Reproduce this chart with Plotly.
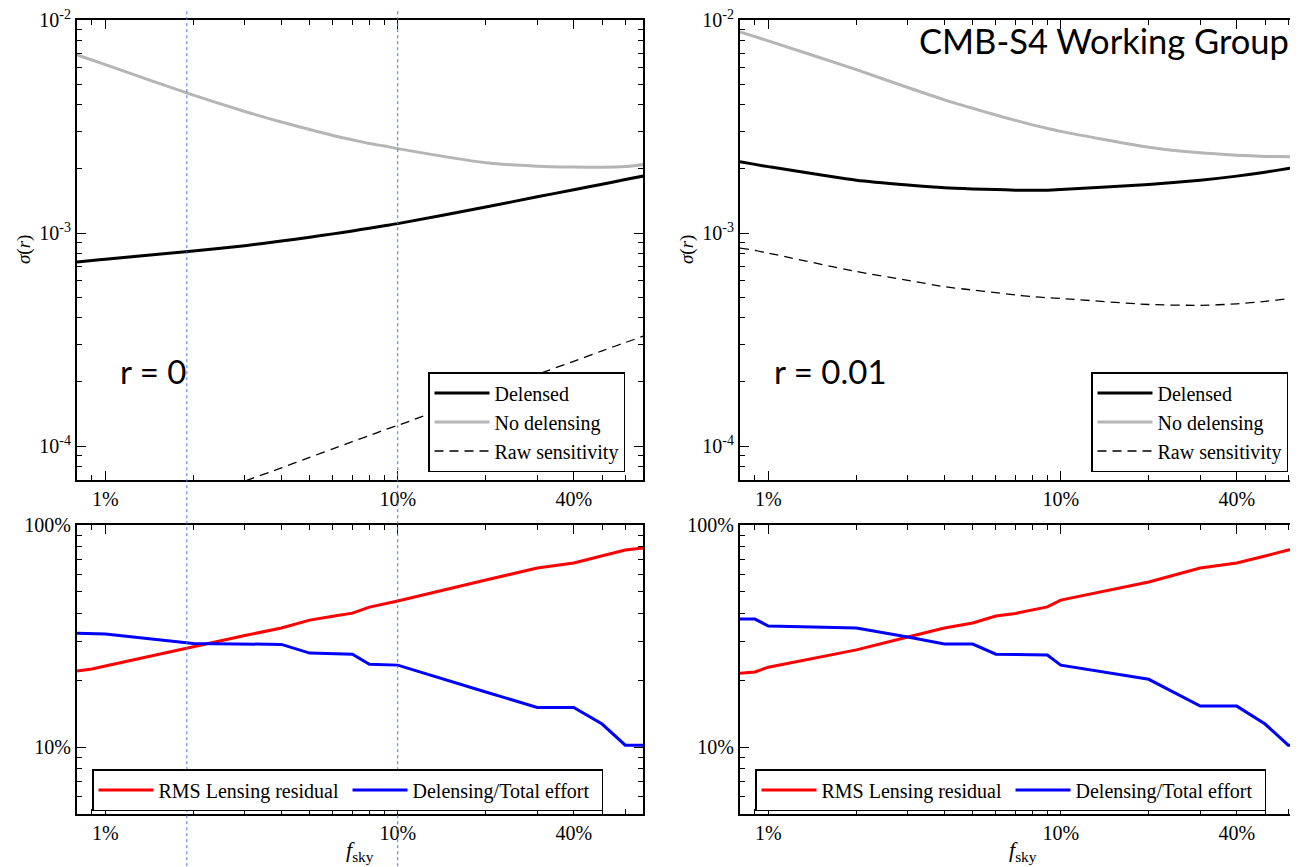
import math
import plotly.graph_objects as go

# ---------------- data ----------------
fsky = [0.8, 0.9, 1, 2, 3, 4, 5, 6, 7, 8, 9, 10, 20, 30, 40, 50, 60, 70]  # percent of sky

# r = 0 panel (top-left)
delensed_r0 = [7.31e-4, 7.43e-4, 7.54e-4, 8.24e-4, 8.72e-4, 9.17e-4, 9.56e-4, 9.91e-4, 1.023e-3, 1.054e-3,
               1.082e-3, 1.107e-3, 1.324e-3, 1.479e-3, 1.596e-3, 1.695e-3, 1.782e-3, 1.857e-3]
nodelens_r0 = [6.85e-3, 6.49e-3, 6.17e-3, 4.44e-3, 3.72e-3, 3.32e-3, 3.06e-3, 2.87e-3, 2.74e-3, 2.63e-3,
               2.56e-3, 2.49e-3, 2.14e-3, 2.06e-3, 2.04e-3, 2.035e-3, 2.05e-3, 2.1e-3]
raw_r0 = [3.5e-5, 3.75e-5, 3.95e-5, 5.6e-5, 6.85e-5, 7.9e-5, 8.85e-5, 9.7e-5, 1.05e-4, 1.12e-4,
          1.19e-4, 1.25e-4, 1.77e-4, 2.17e-4, 2.5e-4, 2.8e-4, 3.06e-4, 3.3e-4]

# r = 0.01 panel (top-right)
delensed_r01 = [2.16e-3, 2.1e-3, 2.05e-3, 1.77e-3, 1.68e-3, 1.63e-3, 1.61e-3, 1.6e-3, 1.59e-3, 1.59e-3,
                1.59e-3, 1.6e-3, 1.69e-3, 1.77e-3, 1.85e-3, 1.93e-3, 2.01e-3, 2.08e-3]
nodelens_r01 = [8.78e-3, 8.35e-3, 7.98e-3, 5.85e-3, 4.82e-3, 4.22e-3, 3.85e-3, 3.58e-3, 3.38e-3, 3.22e-3,
                3.1e-3, 3.0e-3, 2.53e-3, 2.38e-3, 2.32e-3, 2.29e-3, 2.28e-3, 2.27e-3]
raw_r01 = [8.5e-4, 8.3e-4, 8.05e-4, 6.6e-4, 6.0e-4, 5.6e-4, 5.4e-4, 5.25e-4, 5.12e-4, 5.03e-4,
           4.97e-4, 4.93e-4, 4.62e-4, 4.58e-4, 4.65e-4, 4.78e-4, 4.92e-4, 5.05e-4]

# bottom panels (percent)
rms_r0 = [22.0, 22.5, 23.2, 28.4, 31.8, 34.4, 37.3, 38.8, 40.1, 42.7, 44.0, 45.5, 56.5, 64.0, 67.4, 72.5, 77.2, 79.0]
effort_r0 = [32.6, 32.5, 32.3, 29.3, 29.2, 29.0, 26.5, 26.35, 26.2, 23.6, 23.5, 23.4, 17.7, 15.1, 15.1, 12.7, 10.2, 10.2]
rms_r01 = [21.5, 21.8, 22.9, 27.4, 31.3, 34.4, 36.2, 38.9, 40.0, 41.4, 42.8, 45.9, 55.4, 64.0, 67.4, 72.5, 77.2, 78.2]
effort_r01 = [37.7, 37.7, 35.1, 34.4, 31.3, 29.1, 29.1, 26.2, 26.1, 26.1, 26.0, 23.4, 20.2, 15.3, 15.3, 12.7, 10.2, 10.2]

x_tickvals = [1, 10, 40]
x_ticktext = ["1%", "10%", "40%"]
x_minor = [0.9, 2, 3, 4, 5, 6, 7, 8, 9, 20, 30, 50, 60]
sig_tickvals = [1e-4, 1e-3, 1e-2]
sig_ticktext = ["10<sup>-4</sup>", "10<sup>-3</sup>", "10<sup>-2</sup>"]
sig_minor = [7e-5, 8e-5, 9e-5] + [k * 1e-4 for k in range(2, 10)] + [k * 1e-3 for k in range(2, 10)]
pct_tickvals = [10, 100]
pct_ticktext = ["10%", "100%"]
pct_minor = [6, 7, 8, 9] + [k * 10 for k in range(2, 10)]
guide_lines = [1.9, 10]  # fsky guide lines (percent)

# ---------------- layout geometry (page pixels; page body has an 8px margin) ----------------
OFF = 8
W, H = 1298 - OFF, 867 - OFF
SERIF = "Liberation Serif"
SANS = "Lato"


def fx(p):
    return (p - OFF) / W


def fy(p):
    return 1 - (p - OFF) / H


XL0 = math.log10(0.8)
XL1 = math.log10(69)
left_dom = [fx(77), fx(643)]
right_dom = [fx(740), 1.0]
right_end = XL0 + (1298 - 740) / (643 - 77) * (XL1 - XL0)
top_dom = [fy(480), fy(20)]
bot_dom = [fy(814), fy(525)]

fig = go.Figure()

GRAY = "#b5b5b5"
SMOOTH = dict(shape="spline", smoothing=0.6)


def add_top(xa, ya, leg, d, n, r):
    fig.add_trace(go.Scatter(x=fsky, y=d, mode="lines", name="Delensed",
                             line=dict(color="black", width=3, **SMOOTH), xaxis=xa, yaxis=ya, legend=leg))
    fig.add_trace(go.Scatter(x=fsky, y=n, mode="lines", name="No delensing",
                             line=dict(color=GRAY, width=3, **SMOOTH), xaxis=xa, yaxis=ya, legend=leg))
    fig.add_trace(go.Scatter(x=fsky, y=r, mode="lines", name="Raw sensitivity",
                             line=dict(color="black", width=1.3, dash="9px,6px", **SMOOTH),
                             xaxis=xa, yaxis=ya, legend=leg))


def add_bot(xa, ya, leg, rms, eff):
    fig.add_trace(go.Scatter(x=fsky, y=rms, mode="lines", name="RMS Lensing residual",
                             line=dict(color="#ff0000", width=3), xaxis=xa, yaxis=ya, legend=leg))
    fig.add_trace(go.Scatter(x=fsky, y=eff, mode="lines", name="Delensing/Total effort",
                             line=dict(color="#0000ff", width=3), xaxis=xa, yaxis=ya, legend=leg))


add_top("x", "y", "legend", delensed_r0, nodelens_r0, raw_r0)
add_top("x2", "y2", "legend2", delensed_r01, nodelens_r01, raw_r01)
add_bot("x3", "y3", "legend3", rms_r0, effort_r0)
add_bot("x4", "y4", "legend4", rms_r01, effort_r01)

tickfont = dict(family=SERIF, size=20, color="black")
MINOR = dict(ticks="inside", ticklen=5, tickwidth=1, tickcolor="black", showgrid=False)


def xaxis(dom, anchor, rng, mirror="allticks"):
    return dict(type="log", domain=dom, anchor=anchor, range=rng,
                tickvals=x_tickvals, ticktext=x_ticktext,
                ticks="inside", ticklen=9, tickwidth=1.3, tickcolor="black",
                minor=dict(tickvals=x_minor, **MINOR),
                showline=True, linewidth=2.2, linecolor="black", mirror=mirror,
                showgrid=False, zeroline=False, tickfont=tickfont, automargin=False,
                ticklabeloverflow="allow")


def yaxis(dom, anchor, rng, tv, tt, minor, mirror="allticks"):
    return dict(type="log", domain=dom, anchor=anchor, range=rng,
                tickvals=tv, ticktext=tt,
                ticks="inside", ticklen=9, tickwidth=1.3, tickcolor="black",
                minor=dict(tickvals=minor, **MINOR),
                showline=True, linewidth=2.2, linecolor="black", mirror=mirror,
                showgrid=False, zeroline=False, tickfont=tickfont, automargin=False,
                ticklabeloverflow="allow")


sig_range = [math.log10(6.93e-5), -2]
pct_range = [math.log10(5.0), 2]

fig.update_layout(
    xaxis=xaxis(left_dom, "y", [XL0, XL1]),
    yaxis=yaxis(top_dom, "x", sig_range, sig_tickvals, sig_ticktext, sig_minor),
    xaxis2=xaxis(right_dom, "y2", [XL0, right_end]),
    yaxis2=yaxis(top_dom, "x2", sig_range, sig_tickvals, sig_ticktext, sig_minor, mirror=False),
    xaxis3=xaxis(left_dom, "y3", [XL0, XL1]),
    yaxis3=yaxis(bot_dom, "x3", pct_range, pct_tickvals, pct_ticktext, pct_minor),
    xaxis4=xaxis(right_dom, "y4", [XL0, right_end]),
    yaxis4=yaxis(bot_dom, "x4", pct_range, pct_tickvals, pct_ticktext, pct_minor, mirror=False),
)

legfont = dict(family=SERIF, size=20, color="black")
common_leg = dict(bgcolor="white", bordercolor="black", borderwidth=1.5, font=legfont,
                  xref="paper", yref="paper", xanchor="left", tracegroupgap=0,
                  itemclick=False, itemwidth=55)
fig.update_layout(
    legend=dict(x=fx(428), y=fy(472), yanchor="bottom", **common_leg),
    legend2=dict(x=fx(1091), y=fy(472), yanchor="bottom", **common_leg),
    legend3=dict(x=fx(92), y=fy(790), yanchor="middle", orientation="h",
                 entrywidth=184, entrywidthmode="pixels", **common_leg),
    legend4=dict(x=fx(755), y=fy(790), yanchor="middle", orientation="h",
                 entrywidth=184, entrywidthmode="pixels", **common_leg),
)

annotations = [
    dict(text="r = 0", x=fx(118), y=fy(371), xanchor="left", yanchor="middle",
         font=dict(family=SANS, size=33, color="black")),
    dict(text="r = 0.01", x=fx(772), y=fy(371), xanchor="left", yanchor="middle",
         font=dict(family=SANS, size=33, color="black")),
    dict(text="CMB-S4 Working Group", x=fx(1291), y=fy(40), xanchor="right", yanchor="middle",
         font=dict(family=SANS, size=34.5, color="black")),
    dict(text="<i>σ</i>(<i>r</i>)", x=fx(24), y=fy(250), textangle=-90, xanchor="center", yanchor="middle",
         font=dict(family=SERIF, size=19, color="black")),
    dict(text="<i>σ</i>(<i>r</i>)", x=fx(687), y=fy(250), textangle=-90, xanchor="center", yanchor="middle",
         font=dict(family=SERIF, size=19, color="black")),
    dict(text="<i>f</i><sub>sky</sub>", x=fx(360), y=fy(851), xanchor="center", yanchor="middle",
         font=dict(family=SERIF, size=22, color="black")),
    dict(text="<i>f</i><sub>sky</sub>", x=fx(1023), y=fy(851), xanchor="center", yanchor="middle",
         font=dict(family=SERIF, size=22, color="black")),
]
for a in annotations:
    a.update(xref="paper", yref="paper", showarrow=False)

shapes = [dict(type="line", xref="x", yref="paper", x0=v, x1=v, y0=-0.02, y1=1.02,
               line=dict(color="#4a74d9", width=1, dash="dot"), layer="above") for v in guide_lines]

fig.update_layout(
    width=W, height=H, template="none",
    margin=dict(l=0, r=0, t=0, b=0),
    paper_bgcolor="white", plot_bgcolor="white",
    annotations=annotations, shapes=shapes, showlegend=True,
)

fig.write_html("out.html")
